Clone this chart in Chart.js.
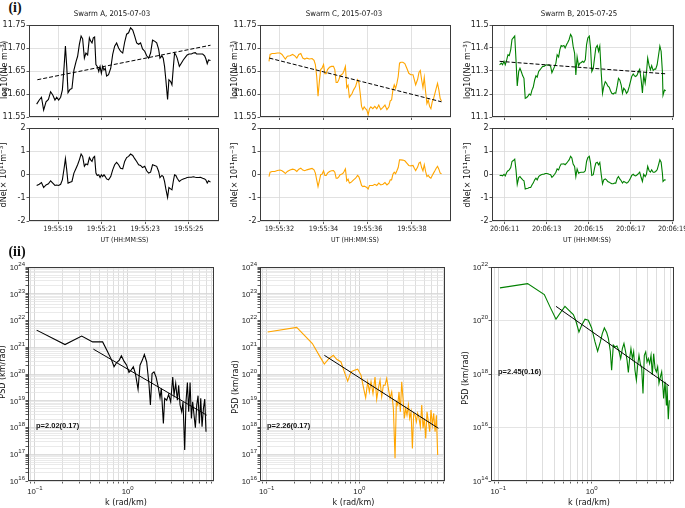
<!DOCTYPE html>
<html><head><meta charset="utf-8">
<script src="https://cdn.jsdelivr.net/npm/chart.js@4/dist/chart.umd.min.js"></script>
<style>
html,body{margin:0;padding:0;background:#fff;}
body{width:685px;height:508px;position:relative;overflow:hidden;}
canvas{position:absolute;}
.t{position:absolute;white-space:nowrap;color:#111;line-height:1;}
.narrow{font-family:'Liberation Sans Narrow','DejaVu Sans Condensed','Liberation Sans',sans-serif;font-size:7px;}
.ttl{font-family:'Liberation Sans Narrow','DejaVu Sans Condensed','Liberation Sans',sans-serif;font-size:7.8px;}
.dv{font-family:'DejaVu Sans',sans-serif;font-size:8px;}
.pb{font-family:'Liberation Sans',sans-serif;font-weight:bold;font-size:7.5px;}
.roman{font-family:'Liberation Serif','DejaVu Serif',serif;font-weight:bold;font-size:14px;}
sup{font-size:70%;vertical-align:0;position:relative;top:-0.45em;}
</style></head><body>
<script>
// ---------------- DATA ----------------
const panelTitles = ['Swarm A, 2015-07-03', 'Swarm C, 2015-07-03', 'Swarm B, 2015-07-25'];
const timeTickLabelsA = ['19:55:19','19:55:21','19:55:23','19:55:25'];
const timeTickLabelsC = ['19:55:32','19:55:34','19:55:36','19:55:38'];
const timeTickLabelsB = ['20:06:11','20:06:13','20:06:15','20:06:17','20:06:19'];
const logNeTicksAC = ['11.55','11.60','11.65','11.70','11.75'];
const logNeTicksB = ['11.1','11.2','11.3','11.4','11.5'];
const dNeTicks = ['-2','-1','0','1','2'];
const psdXTickExps = [-1, 0];
const psdYTickExpsAC = [16,17,18,19,20,21,22,23,24];
const psdYTickExpsB = [14,16,18,20,22];
const fitLabels = ['p=2.02(0.17)', 'p=2.26(0.17)', 'p=2.45(0.16)'];

// Swarm A (seconds after 19:55:00)
const timeA = [18.02,18.14,18.24,18.34,18.45,18.56,18.66,18.76,18.86,18.94,
19.03,19.12,19.20,19.28,19.34,19.40,19.46,19.55,19.64,19.73,
19.83,19.90,19.98,20.06,20.13,20.21,20.28,20.36,20.44,20.50,
20.56,20.62,20.68,20.74,20.80,20.87,20.93,20.99,21.05,21.11,
21.17,21.23,21.32,21.42,21.51,21.60,21.69,21.78,21.87,21.97,
22.06,22.15,22.24,22.33,22.43,22.52,22.61,22.70,22.79,22.88,
22.98,23.07,23.16,23.25,23.34,23.43,23.53,23.62,23.68,23.77,
23.83,23.89,23.95,24.03,24.09,24.17,24.23,24.29,24.35,24.41,
24.47,24.57,24.66,24.75,24.85,24.93,25.02,25.12,25.21,25.30,
25.36,25.45,25.54,25.64,25.73,25.79,25.85,25.91,26.00];
const logNeA = [11.578,11.587,11.593,11.565,11.583,11.588,11.605,11.598,11.587,11.593,
11.587,11.593,11.609,11.66,11.704,11.66,11.603,11.61,11.612,11.652,
11.671,11.682,11.708,11.726,11.72,11.678,11.689,11.685,11.722,11.715,
11.711,11.722,11.724,11.664,11.66,11.649,11.66,11.645,11.66,11.652,
11.656,11.639,11.642,11.656,11.686,11.704,11.711,11.70,11.693,11.689,
11.713,11.73,11.733,11.744,11.739,11.726,11.711,11.708,11.711,11.698,
11.693,11.683,11.678,11.689,11.717,11.715,11.711,11.697,11.678,11.683,
11.678,11.66,11.631,11.588,11.631,11.627,11.62,11.656,11.689,11.685,
11.678,11.66,11.667,11.674,11.68,11.685,11.687,11.687,11.689,11.69,
11.687,11.687,11.687,11.687,11.683,11.676,11.666,11.674,11.673];
const dNeA = [-0.47,-0.42,-0.35,-0.56,-0.45,-0.40,-0.27,-0.37,-0.47,-0.45,
-0.47,-0.42,-0.23,0.27,0.68,0.2,-0.37,-0.33,-0.30,0.06,
0.27,0.42,0.63,0.88,0.78,0.35,0.45,0.42,0.73,0.63,
0.56,0.73,0.78,0.06,-0.04,-0.01,-0.13,-0.01,-0.09,-0.01,
-0.09,-0.19,-0.23,-0.09,0.2,0.42,0.52,0.42,0.27,0.24,
0.56,0.73,0.78,0.88,0.82,0.68,0.56,0.42,0.39,0.3,
0.35,0.16,0.06,0.1,0.42,0.39,0.35,0.13,-0.13,-0.04,
-0.09,-0.3,-0.62,-0.99,-0.56,-0.62,-0.66,-0.30,-0.01,-0.04,
-0.16,-0.30,-0.23,-0.19,-0.16,-0.13,-0.12,-0.12,-0.10,-0.12,
-0.13,-0.13,-0.12,-0.16,-0.19,-0.24,-0.37,-0.27,-0.33];
const trendTimeA = [18.05, 26.0];
const trendLogNeA = [11.631, 11.706];

// Swarm C (seconds after 19:55:00)
const timeC = [31.53,31.58,31.67,31.79,31.91,32.03,32.12,32.21,32.27,32.36,
32.48,32.60,32.70,32.79,32.88,32.97,33.06,33.15,33.24,33.36,
33.48,33.57,33.63,33.69,33.75,33.81,33.87,33.93,34.00,34.06,
34.12,34.18,34.27,34.36,34.45,34.51,34.57,34.63,34.69,34.75,
34.81,34.87,34.93,34.99,35.05,35.11,35.17,35.23,35.29,35.36,
35.45,35.54,35.60,35.66,35.72,35.78,35.84,35.90,35.96,36.02,
36.08,36.14,36.23,36.32,36.41,36.50,36.59,36.69,36.78,36.87,
36.96,37.02,37.08,37.14,37.20,37.26,37.32,37.38,37.44,37.50,
37.59,37.68,37.77,37.86,37.95,38.05,38.11,38.17,38.26,38.32,
38.38,38.44,38.50,38.56,38.62,38.68,38.74,38.80,38.86,38.92,
38.98,39.04,39.10,39.16,39.22,39.28,39.34];
const logNeC = [11.671,11.686,11.688,11.688,11.689,11.689,11.686,11.680,11.676,11.682,
11.683,11.686,11.683,11.678,11.686,11.688,11.678,11.676,11.678,11.676,
11.677,11.673,11.664,11.638,11.595,11.627,11.653,11.656,11.664,11.644,
11.644,11.653,11.658,11.66,11.66,11.653,11.625,11.625,11.631,11.639,
11.642,11.644,11.651,11.66,11.614,11.619,11.593,11.597,11.601,11.609,
11.616,11.631,11.625,11.601,11.573,11.566,11.572,11.568,11.565,11.555,
11.568,11.572,11.568,11.573,11.568,11.576,11.566,11.571,11.576,11.566,
11.572,11.585,11.587,11.609,11.62,11.612,11.623,11.638,11.667,11.669,
11.669,11.666,11.656,11.645,11.642,11.642,11.631,11.62,11.632,11.647,
11.651,11.631,11.614,11.636,11.605,11.579,11.587,11.573,11.568,11.583,
11.59,11.601,11.612,11.623,11.609,11.59,11.585];
const dNeC = [-0.09,0.1,0.13,0.13,0.17,0.19,0.16,0.1,0.04,0.13,
0.19,0.23,0.2,0.13,0.23,0.27,0.19,0.16,0.2,0.23,
0.26,0.2,0.06,-0.23,-0.52,-0.27,-0.01,0.01,0.16,-0.04,
-0.04,0.06,0.13,0.16,0.17,0.1,-0.16,-0.16,-0.1,-0.01,
0.01,0.04,0.13,0.24,-0.27,-0.2,-0.37,-0.35,-0.3,-0.23,
-0.16,-0.04,-0.1,-0.27,-0.47,-0.52,-0.5,-0.53,-0.56,-0.62,
-0.47,-0.47,-0.47,-0.42,-0.47,-0.37,-0.45,-0.42,-0.35,-0.45,
-0.37,-0.23,-0.23,0.01,0.1,0.03,0.16,0.3,0.63,0.63,
0.62,0.59,0.49,0.39,0.37,0.39,0.27,0.17,0.32,0.49,
0.53,0.3,0.16,0.42,0.13,-0.09,-0.04,-0.12,-0.16,-0.04,
0.06,0.16,0.27,0.35,0.23,0.06,0.03];
const trendTimeC = [31.55, 39.34];
const trendLogNeC = [11.678, 11.583];

// Swarm B (seconds after 20:06:00)
const timeB = [10.76,10.84,10.90,10.97,11.03,11.10,11.16,11.22,11.29,11.35,
11.41,11.48,11.54,11.60,11.67,11.73,11.79,11.86,11.92,11.98,
12.05,12.11,12.17,12.24,12.30,12.36,12.43,12.49,12.55,12.62,
12.68,12.74,12.81,12.87,12.93,13.00,13.06,13.12,13.19,13.25,
13.31,13.38,13.44,13.50,13.57,13.63,13.69,13.76,13.82,13.88,
13.95,14.01,14.07,14.14,14.20,14.26,14.33,14.39,14.45,14.52,
14.58,14.65,14.71,14.77,14.84,14.90,14.96,15.03,15.09,15.15,
15.22,15.28,15.34,15.41,15.47,15.53,15.60,15.66,15.72,15.79,
15.85,15.91,15.98,16.04,16.10,16.17,16.23,16.29,16.36,16.42,
16.48,16.55,16.61,16.67,16.74,16.80,16.86,16.93,16.99,17.05,
17.12,17.18,17.24,17.31,17.37,17.43,17.50,17.56,17.62,17.69,
17.75,17.81,17.88,17.94,18.00,18.07,18.13,18.19,18.26,18.32,
18.39,18.45,18.51,18.54,18.61,18.67];
const logNeB = [11.327,11.334,11.327,11.342,11.327,11.349,11.371,11.367,11.393,11.437,
11.444,11.452,11.349,11.235,11.298,11.312,11.298,11.279,11.268,11.181,
11.185,11.191,11.2,11.195,11.217,11.229,11.261,11.279,11.273,11.298,
11.305,11.312,11.32,11.32,11.324,11.327,11.325,11.327,11.32,11.293,
11.305,11.32,11.334,11.371,11.361,11.393,11.411,11.408,11.411,11.4,
11.415,11.425,11.437,11.459,11.449,11.408,11.378,11.283,11.361,11.323,
11.334,11.337,11.342,11.337,11.349,11.415,11.444,11.452,11.4,11.298,
11.312,11.356,11.4,11.411,11.386,11.408,11.29,11.203,11.232,11.254,
11.247,11.235,11.229,11.214,11.203,11.2,11.205,11.203,11.235,11.268,
11.261,11.239,11.203,11.225,11.217,11.203,11.21,11.232,11.254,11.276,
11.287,11.279,11.276,11.283,11.298,11.308,11.261,11.205,11.283,11.247,
11.29,11.356,11.323,11.305,11.323,11.302,11.308,11.308,11.327,11.364,
11.408,11.386,11.298,11.195,11.217,11.214];
const dNeB = [-0.04,-0.03,-0.06,0.01,-0.06,0.1,0.16,0.2,0.3,0.56,
0.6,0.66,0.2,-0.42,-0.13,-0.09,-0.16,-0.23,-0.27,-0.62,
-0.6,-0.59,-0.56,-0.56,-0.45,-0.37,-0.23,-0.16,-0.23,-0.09,
-0.04,-0.01,0.01,0.01,0.04,0.04,0.03,0.01,-0.01,-0.12,
-0.07,0.01,0.1,0.24,0.2,0.35,0.45,0.45,0.46,0.42,
0.49,0.56,0.63,0.78,0.71,0.45,0.35,-0.09,0.24,0.06,
0.09,0.1,0.1,0.1,0.16,0.56,0.73,0.78,0.49,-0.04,
-0.01,0.27,0.49,0.53,0.42,0.52,-0.01,-0.4,-0.23,-0.19,
-0.23,-0.3,-0.33,-0.37,-0.4,-0.4,-0.37,-0.37,-0.16,-0.09,
-0.19,-0.27,-0.37,-0.3,-0.33,-0.37,-0.35,-0.26,-0.16,-0.04,
0.01,-0.04,-0.06,-0.01,0.04,0.1,-0.13,-0.3,0.01,-0.09,
0.01,0.35,0.16,0.1,0.2,0.1,0.1,0.13,0.2,0.39,
0.63,0.53,0.06,-0.3,-0.23,-0.24];
const trendTimeB = [10.76, 18.64];
const trendLogNeB = [11.342, 11.288];

// PSD spectra: log10 k (rad/km) and log10 PSD (km/rad)
const psdA_log10k = [-0.982,-0.676,-0.496,-0.378,-0.270,-0.219,-0.173,-0.147,-0.119,-0.090,-0.068,-0.040,-0.011,0.014,0.036,0.061,0.083,0.112,0.133,0.158,0.180,0.205,0.230,0.245,0.263,0.284,0.306,0.327,0.349,0.363,0.385,0.399,0.421,0.442,0.464,0.486,0.500,0.518,0.536,0.550,0.565,0.583,0.597,0.615,0.629,0.644,0.658,0.673,0.687,0.701,0.716,0.730,0.745,0.759,0.773,0.788,0.802,0.817,0.831,0.845];
const psdA_log10P = [21.64,21.10,21.42,21.20,21.20,20.85,20.52,20.27,20.43,20.52,20.68,20.48,20.33,20.06,20.14,20.27,20.02,19.43,20.33,20.52,20.73,20.45,19.61,18.84,20.02,20.08,19.89,19.56,19.11,19.46,18.15,19.09,19.02,19.24,18.96,19.89,19.21,19.65,19.02,19.58,18.84,18.59,18.96,17.16,18.96,19.68,18.59,19.68,18.34,18.96,18.46,17.99,18.84,19.19,18.15,19.09,18.03,18.71,19.06,17.84];
const fitA_log10k = [-0.370, 0.853];
const fitA_log10P = [20.93, 18.46];

const psdC_log10k = [-0.989,-0.676,-0.507,-0.424,-0.378,-0.327,-0.281,-0.245,-0.198,-0.162,-0.126,-0.090,-0.054,-0.018,0.018,0.043,0.068,0.090,0.108,0.126,0.147,0.169,0.187,0.205,0.223,0.241,0.259,0.277,0.295,0.313,0.331,0.349,0.367,0.385,0.399,0.414,0.428,0.442,0.457,0.471,0.486,0.500,0.514,0.529,0.543,0.558,0.572,0.586,0.601,0.615,0.629,0.644,0.658,0.673,0.687,0.701,0.716,0.730,0.745,0.759,0.773,0.788,0.802,0.817,0.831,0.845];
const psdC_log10P = [21.57,21.74,21.14,20.64,20.37,20.58,20.70,20.55,20.45,20.08,19.73,20.08,20.14,20.18,19.96,19.52,19.11,19.71,19.33,19.71,19.27,19.89,19.06,19.46,19.77,19.15,19.58,19.58,19.83,19.46,19.09,19.33,18.71,16.85,18.96,18.84,19.33,18.59,19.71,19.09,18.34,18.71,18.46,18.84,18.34,18.59,17.22,18.53,18.46,18.21,18.53,18.34,18.03,18.84,17.97,18.34,17.59,18.59,18.21,17.84,18.65,18.09,18.53,17.84,18.46,16.97];
const fitC_log10k = [-0.378, 0.853];
const fitC_log10P = [20.70, 17.97];

const psdB_log10k = [-0.982,-0.686,-0.507,-0.446,-0.382,-0.329,-0.286,-0.243,-0.196,-0.171,-0.136,-0.107,-0.071,-0.036,0.000,0.036,0.064,0.093,0.114,0.136,0.161,0.179,0.200,0.214,0.232,0.250,0.271,0.293,0.311,0.329,0.346,0.364,0.379,0.393,0.407,0.421,0.436,0.450,0.464,0.479,0.493,0.507,0.521,0.536,0.550,0.564,0.579,0.593,0.607,0.621,0.636,0.650,0.664,0.679,0.693,0.707,0.721,0.736,0.750,0.764,0.771,0.786,0.800,0.807,0.821,0.832];
const psdB_log10P = [21.22,21.38,20.97,20.51,20.05,20.32,20.53,20.38,20.22,20.01,19.57,19.82,20.05,20.01,19.72,19.20,18.85,19.20,19.51,19.72,19.55,19.33,18.85,18.14,19.08,19.01,19.05,18.85,18.58,18.95,19.14,18.83,18.52,18.06,18.58,18.95,18.58,18.83,18.14,17.77,18.33,18.70,18.39,18.21,17.27,18.70,18.83,18.45,18.58,18.39,18.70,17.96,18.76,18.21,18.08,18.27,17.65,17.89,18.08,17.46,17.09,17.71,16.84,17.58,16.31,17.02];
const fitB_log10k = [-0.382, 0.829];
const fitB_log10P = [20.53, 17.56];

// ---------------- HELPERS ----------------
const NARROW = "'Liberation Sans Narrow','DejaVu Sans Condensed','Liberation Sans',sans-serif";
const DV = "'DejaVu Sans',sans-serif";
const LIB = "'Liberation Sans',sans-serif";
const secOf = l => parseFloat(l.split(':')[2]);
const p10 = v => Math.pow(10, v);
function pts(xs, ys, fx, fy) {
  const n = Math.min(xs.length, ys.length), out = [];
  for (let i = 0; i < n; i++) out.push({x: fx ? fx(xs[i]) : xs[i], y: fy ? fy(ys[i]) : ys[i]});
  return out;
}
const GRID = '#d9d9d9';
const frame = {
  id: 'frame',
  afterDatasetsDraw(chart) {
    const a = chart.chartArea, ctx = chart.ctx;
    ctx.save(); ctx.strokeStyle = '#3a3a3a'; ctx.lineWidth = 1;
    ctx.strokeRect(Math.round(a.left) + 0.5, Math.round(a.top) + 0.5, Math.round(a.right - a.left) - 1, Math.round(a.bottom - a.top) - 1);
    ctx.restore();
  }
};
// draws "10" with a raised exponent for the major ticks of logarithmic scales
const logLabels = {
  id: 'logLabels',
  afterDraw(chart) {
    const ctx = chart.ctx, a = chart.chartArea;
    ctx.save(); ctx.fillStyle = '#222'; ctx.textBaseline = 'alphabetic'; ctx.textAlign = 'left';
    const BASEF = '7.8px ' + LIB, EXPF = '6px ' + LIB;
    Object.values(chart.scales).forEach(s => {
      if (s.type !== 'logarithmic') return;
      s.ticks.forEach(t => {
        if (!t.major) return;
        const e = String(Math.round(Math.log10(t.value))).replace('-', '\u2212');
        ctx.font = BASEF; const wb = ctx.measureText('10').width;
        ctx.font = EXPF; const we = ctx.measureText(e).width;
        const p = s.getPixelForValue(t.value);
        let x0, yb, ye;
        if (s.isHorizontal()) { x0 = p - (wb + we) / 2; yb = a.bottom + 13; ye = a.bottom + 9; }
        else { x0 = a.left - 3 - we - wb; yb = p + 2.9; ye = p - 1.2; }
        ctx.font = BASEF; ctx.fillText('10', x0, yb);
        ctx.font = EXPF; ctx.fillText(e, x0 + wb, ye);
      });
    });
    ctx.restore();
  }
};
function timeX(min, max, labels, show) {
  return {
    type: 'linear', min, max,
    afterBuildTicks: s => { s.ticks = labels.map(l => ({value: secOf(l)})); },
    ticks: {autoSkip: false, maxRotation: 0, minRotation: 0, padding: 1, color: '#222',
      font: {family: NARROW, size: 7.3}, callback: (v, i) => show ? labels[i] : ''},
    grid: {color: GRID, lineWidth: 0.8, tickLength: 3, tickColor: '#333', tickWidth: 0.8},
    border: {display: false}
  };
}
function linY(min, max, labels) {
  return {
    type: 'linear', min, max,
    afterBuildTicks: s => { s.ticks = labels.map(l => ({value: parseFloat(l)})); },
    ticks: {autoSkip: false, padding: 1, color: '#222', font: {family: DV, size: 8}, callback: (v, i) => labels[i]},
    grid: {color: GRID, lineWidth: 0.8, tickLength: 2.5, tickColor: '#333', tickWidth: 0.8},
    border: {display: false}
  };
}
function logAxis(minE, maxE, labelExps, minors, majCol, minCol) {
  const lo = p10(minE), hi = p10(maxE);
  return {
    type: 'logarithmic', min: lo, max: hi,
    afterBuildTicks: s => {
      const t = [];
      for (let e = Math.floor(minE); e <= Math.ceil(maxE); e++) {
        for (let m = 1; m <= 9; m++) {
          const v = m * Math.pow(10, e);
          if (v < lo || v > hi) continue;
          const lab = (m === 1 && labelExps.includes(e));
          if (!lab && !minors) continue;
          t.push({value: v, major: lab});
        }
      }
      s.ticks = t;
    },
    ticks: {autoSkip: false, maxRotation: 0, minRotation: 0, padding: 1, font: {family: DV, size: 8}, callback: () => ''},
    grid: {color: c => (c.tick && c.tick.major) ? majCol : minCol, lineWidth: 0.8, tickLength: 2.5, tickColor: '#333', tickWidth: 0.8},
    border: {display: false}
  };
}
function addChart(g, datasets, xs, ys) {
  const PADL = 40, PADR = 24, PADT = 8, PADB = 18;
  const c = document.createElement('canvas');
  const w = PADL + g.w + PADR, h = PADT + g.h + PADB;
  c.width = w; c.height = h;
  c.style.left = (g.l - PADL) + 'px'; c.style.top = (g.t - PADT) + 'px';
  c.style.width = w + 'px'; c.style.height = h + 'px';
  document.body.appendChild(c);
  xs.afterFit = s => { s.height = PADB; };
  ys.afterFit = s => { s.width = PADL; };
  new Chart(c, {
    type: 'line',
    data: {datasets},
    options: {
      responsive: false, animation: false, devicePixelRatio: 1,
      layout: {padding: {left: 0, right: PADR, top: PADT, bottom: 0}},
      plugins: {legend: {display: false}, tooltip: {enabled: false}, title: {display: false}},
      scales: {x: xs, y: ys},
      elements: {point: {radius: 0}, line: {tension: 0}}
    },
    plugins: [frame, logLabels]
  });
}
const line = (data, color, w, dash) => ({data, borderColor: color, borderWidth: w, borderDash: dash || [], pointRadius: 0, fill: false});
function txt(html, x, y, cls, mode) {
  const d = document.createElement('div');
  d.className = 't ' + cls; d.innerHTML = html;
  d.style.left = x + 'px'; d.style.top = y + 'px';
  d.style.transform = mode === 'rot' ? 'translate(-50%,-50%) rotate(-90deg)' : (mode === 'left' ? 'translateY(-50%)' : 'translate(-50%,-50%)');
  document.body.appendChild(d);
}

// ---------------- LAYOUT ----------------
const COL_A = '#000000', COL_C = '#ffa500', COL_B = '#008000';
const topRow = [{l: 29, t: 25, w: 190, h: 92}, {l: 260, t: 25, w: 191, h: 92}, {l: 492, t: 25, w: 182, h: 92}];
const midRow = [{l: 29, t: 128, w: 190, h: 93}, {l: 260, t: 128, w: 191, h: 93}, {l: 492, t: 128, w: 182, h: 93}];
const botRow = [{l: 28, t: 267, w: 186, h: 214}, {l: 260, t: 267, w: 185, h: 214}, {l: 491, t: 267, w: 183, h: 214}];
const xRange = [[17.668, 26.39], [31.123, 39.77], [10.398, 19.063]];

// Top row
addChart(topRow[0], [line(pts(trendTimeA, trendLogNeA), '#000', 1, [4, 2]), line(pts(timeA, logNeA), COL_A, 1.1)],
  timeX(xRange[0][0], xRange[0][1], timeTickLabelsA, false), linY(11.55, 11.75, logNeTicksAC));
addChart(topRow[1], [line(pts(trendTimeC, trendLogNeC), '#000', 1, [4, 2]), line(pts(timeC, logNeC), COL_C, 1.1)],
  timeX(xRange[1][0], xRange[1][1], timeTickLabelsC, false), linY(11.55, 11.75, logNeTicksAC));
addChart(topRow[2], [line(pts(trendTimeB, trendLogNeB), '#000', 1, [4, 2]), line(pts(timeB, logNeB), COL_B, 1.1)],
  timeX(xRange[2][0], xRange[2][1], timeTickLabelsB, false), linY(11.1, 11.5, logNeTicksB));
// Middle row
addChart(midRow[0], [line(pts(timeA, dNeA), COL_A, 1.1)], timeX(xRange[0][0], xRange[0][1], timeTickLabelsA, true), linY(-2, 2, dNeTicks));
addChart(midRow[1], [line(pts(timeC, dNeC), COL_C, 1.1)], timeX(xRange[1][0], xRange[1][1], timeTickLabelsC, true), linY(-2, 2, dNeTicks));
addChart(midRow[2], [line(pts(timeB, dNeB), COL_B, 1.1)], timeX(xRange[2][0], xRange[2][1], timeTickLabelsB, true), linY(-2, 2, dNeTicks));
// Bottom row (PSD)
addChart(botRow[0], [line(pts(fitA_log10k, fitA_log10P, p10, p10), '#000', 1), line(pts(psdA_log10k, psdA_log10P, p10, p10), COL_A, 1.1)],
  logAxis(-1.075, 0.931, psdXTickExps, true, '#cccccc', '#d6d6d6'), logAxis(16, 24, psdYTickExpsAC, true, '#d4d4d4', '#e4e4e4'));
addChart(botRow[1], [line(pts(fitC_log10k, fitC_log10P, p10, p10), '#000', 1), line(pts(psdC_log10k, psdC_log10P, p10, p10), COL_C, 1.1)],
  logAxis(-1.072, 0.924, psdXTickExps, true, '#cccccc', '#d6d6d6'), logAxis(16, 24, psdYTickExpsAC, true, '#d4d4d4', '#e4e4e4'));
addChart(botRow[2], [line(pts(fitB_log10k, fitB_log10P, p10, p10), '#000', 1), line(pts(psdB_log10k, psdB_log10P, p10, p10), COL_B, 1.1)],
  logAxis(-1.078, 0.882, psdXTickExps, true, '#cccccc', '#d6d6d6'), logAxis(14, 22, psdYTickExpsB, false, '#dddddd', '#e4e4e4'));

// ---------------- TEXT ----------------
txt('(i)', 15, 8, 'roman');
txt('(ii)', 17, 252, 'roman');
const titleX = [112, 344, 579];
panelTitles.forEach((s, i) => txt(s, titleX[i], 14, 'ttl'));
[124.5, 355, 587].forEach(x => txt('UT (HH:MM:SS)', x, 240, 'narrow'));
[5, 235, 467.5].forEach(x => txt('log10(Ne m<sup>−3</sup>)', x, 70, 'dv', 'rot'));
[4, 235, 467.5].forEach(x => txt('dNe[× 10<sup>11</sup>m<sup>−3</sup>]', x, 175, 'dv', 'rot'));
[[3, 372], [236, 387], [466, 378]].forEach(p => txt('PSD (km/rad)', p[0], p[1], 'dv', 'rot'));
[126, 353.5, 589].forEach(x => txt('k (rad/km)', x, 503, 'dv'));
[[36, 426], [267, 426], [498, 372]].forEach((p, i) => txt(fitLabels[i], p[0], p[1], 'pb', 'left'));
</script>
</body></html>
